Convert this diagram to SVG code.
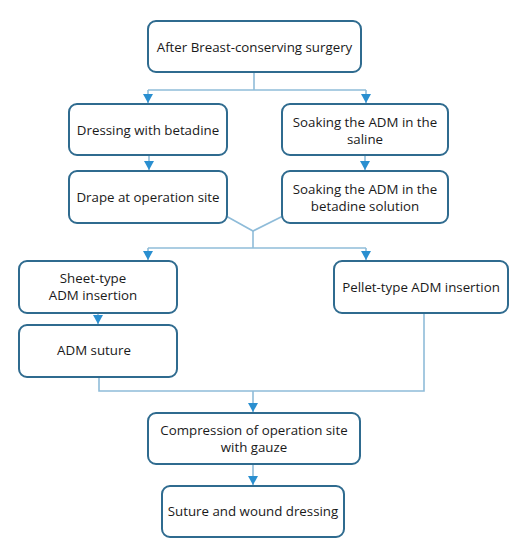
<svg xmlns="http://www.w3.org/2000/svg" width="526" height="550" viewBox="0 0 526 550">
<defs>
<style>
.box{fill:#fff;stroke:#2f6b8f;stroke-width:2}
.t{font-family:"Open Sans","Noto Sans","Liberation Sans",sans-serif;font-size:13.3px;fill:#1a1a1a;text-anchor:middle}
.c{fill:none;stroke:#8fbcd9;stroke-width:1.6}
</style>
<marker id="ah" markerWidth="9" markerHeight="10" refX="9" refY="5" orient="auto" markerUnits="userSpaceOnUse" viewBox="0 0 9 10">
<path d="M0,0 L9,5 L0,10 Z" fill="#2a8fd0"/>
</marker>
</defs>
<rect width="526" height="550" fill="#fff"/>
<g id="connectors">
<path class="c" d="M254,72 V90"/>
<path class="c" d="M148,90 H366"/>
<path class="c" d="M148,90 V103" marker-end="url(#ah)"/>
<path class="c" d="M366,90 V103" marker-end="url(#ah)"/>
<path class="c" d="M149,155 V170" marker-end="url(#ah)"/>
<path class="c" d="M365,155 V170" marker-end="url(#ah)"/>
<path class="c" d="M226,216 L253,231 L283,216"/>
<path class="c" d="M253,231 V248"/>
<path class="c" d="M148,248 H366"/>
<path class="c" d="M148,248 V260" marker-end="url(#ah)"/>
<path class="c" d="M366,248 V260" marker-end="url(#ah)"/>
<path class="c" d="M98,313 V324" marker-end="url(#ah)"/>
<path class="c" d="M99,377 V391 H424 V313"/>
<path class="c" d="M253,391 V412" marker-end="url(#ah)"/>
<path class="c" d="M253,464 V485" marker-end="url(#ah)"/>
</g>
<g id="n1"><rect class="box" x="148" y="21" width="213" height="51" rx="8"/><text class="t" x="254.5" y="52">After Breast-conserving surgery</text></g>
<g id="n2"><rect class="box" x="69" y="104" width="158" height="51" rx="8"/><text class="t" x="148" y="135">Dressing with betadine</text></g>
<g id="n3"><rect class="box" x="282" y="104" width="166" height="51" rx="8"/><text class="t" x="365" y="127">Soaking the ADM in the</text><text class="t" x="365" y="144">saline</text></g>
<g id="n4"><rect class="box" x="69" y="171" width="158" height="52" rx="8"/><text class="t" x="148" y="202">Drape at operation site</text></g>
<g id="n5"><rect class="box" x="282" y="171" width="166" height="52" rx="8"/><text class="t" x="365" y="194">Soaking the ADM in the</text><text class="t" x="365" y="211">betadine solution</text></g>
<g id="n6"><rect class="box" x="19" y="261" width="158" height="52" rx="8"/><text class="t" x="93" y="283">Sheet-type</text><text class="t" x="93" y="300">ADM insertion</text></g>
<g id="n7"><rect class="box" x="334" y="261" width="174" height="52" rx="8"/><text class="t" x="421" y="292">Pellet-type ADM insertion</text></g>
<g id="n8"><rect class="box" x="19" y="325" width="158" height="52" rx="8"/><text class="t" x="94" y="355">ADM suture</text></g>
<g id="n9"><rect class="box" x="148" y="413" width="212" height="51" rx="8"/><text class="t" x="254" y="435">Compression of operation site</text><text class="t" x="254" y="452">with gauze</text></g>
<g id="n10"><rect class="box" x="162" y="486" width="182" height="51" rx="8"/><text class="t" x="253" y="516">Suture and wound dressing</text></g>
</svg>
